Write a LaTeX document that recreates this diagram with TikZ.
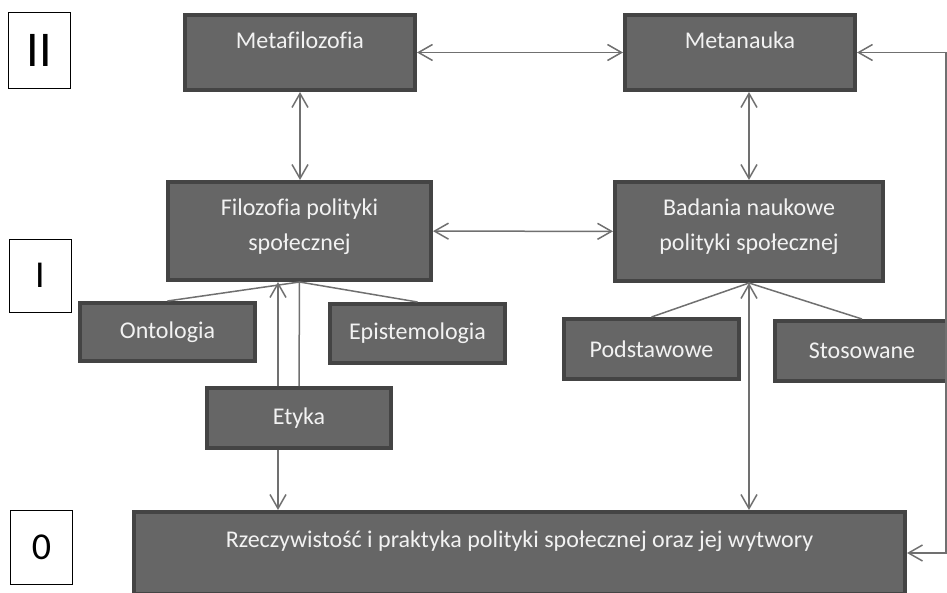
\documentclass[tikz,border=0pt]{standalone}
\usepackage{fontspec}
\setmainfont[Ligatures=CommonOff]{Carlito}
\usetikzlibrary{arrows.meta}
\definecolor{boxfill}{RGB}{102,102,102}
\definecolor{boxedge}{RGB}{68,68,68}
\definecolor{boxtext}{RGB}{242,242,242}
\definecolor{linkgray}{RGB}{112,112,112}

\begin{document}
\begin{tikzpicture}[x=1pt, y=-1pt,
	box/.style={draw=boxedge, fill=boxfill, line width=4pt, inner sep=0pt,
		text=boxtext, font=\fontsize{24}{35}\selectfont, align=center},
	boxtop/.style={anchor=north, yshift=-19pt, inner sep=0pt,
		text=boxtext, font=\fontsize{24}{35}\selectfont, align=center},
	level/.style={draw=black, line width=0.8pt, fill=white, inner sep=0pt,
		minimum width=62pt, font=\fontsize{38}{38}\selectfont},
	link/.style={draw=linkgray, line width=1.5pt},
	>={Straight Barb[length=14pt, width=16pt]}
]

	\useasboundingbox (0,0) rectangle (947,593);

	% Levels
	\node[level, minimum height=76pt, font=\fontsize{50}{50}\selectfont] (lvltwo) at (39,50) {II};
	\node[level, minimum height=73pt] (lvlone) at (40,275.5) {I};
	\node[level, minimum height=74pt] (lvlzero) at (41.5,547) {0};

	% Level II
	\node[box, minimum width=230pt, minimum height=75pt,
		label={[boxtop]north:Metafilozofia}] (metafil) at (300,52.5) {};
	\node[box, minimum width=230pt, minimum height=75pt,
		label={[boxtop]north:Metanauka}] (metanauka) at (740,52.5) {};

	% Level I
	\node[box, minimum width=263pt, minimum height=98pt,
		label={[boxtop]north:Filozofia polityki\\społecznej}] (filozofia) at (299.5,231) {};
	\node[box, minimum width=268pt, minimum height=99pt,
		label={[boxtop]north:Badania naukowe\\polityki społecznej}] (badania) at (749,231.5) {};

	\node[box, minimum width=175pt, minimum height=58pt] (ontologia) at (167.5,332) {Ontologia};
	\node[box, minimum width=175pt, minimum height=59pt] (epistem) at (417.5,333.5) {Epistemologia};
	\node[box, minimum width=184pt, minimum height=60pt] (etyka) at (299,418) {Etyka};
	\node[box, minimum width=175pt, minimum height=60pt] (podst) at (651.5,349) {Podstawowe};
	\node[box, minimum width=174pt, minimum height=60pt] (stosow) at (862,351) {Stosowane};

	% Level 0
	\node[box, minimum width=771pt, minimum height=82pt,
		label={[boxtop, yshift=-2pt]north:Rzeczywistość i praktyka polityki społecznej oraz jej wytwory}] (rz) at (519.5,553) {};

	% Links
	\draw[link, <->] (metafil) -- (metanauka);
	\draw[link, <->] (metafil.south) -- (metafil.south |- filozofia.north);
	\draw[link, <->] (badania.north |- metanauka.south) -- (badania.north);
	\draw[link, <->] (filozofia) -- (badania);

	\draw[link] (ontologia.north) -- (filozofia.south) -- (epistem.north);
	\draw[link] (etyka.north) -- (filozofia.south);
	\draw[link, ->] ([xshift=-21pt]etyka.north) -- ([xshift=-21pt]etyka.north |- filozofia.south);
	\draw[link, ->] ([xshift=-21pt]etyka.south) -- ([xshift=-21pt]etyka.south |- rz.north);

	\draw[link] (podst.north) -- (badania.south) -- (stosow.north);
	\draw[link, <->] (badania.south) -- (badania.south |- rz.north);

	\draw[link, <->] (rz.east) -- ++(39,0) |- (metanauka.east);

\end{tikzpicture}
\end{document}
